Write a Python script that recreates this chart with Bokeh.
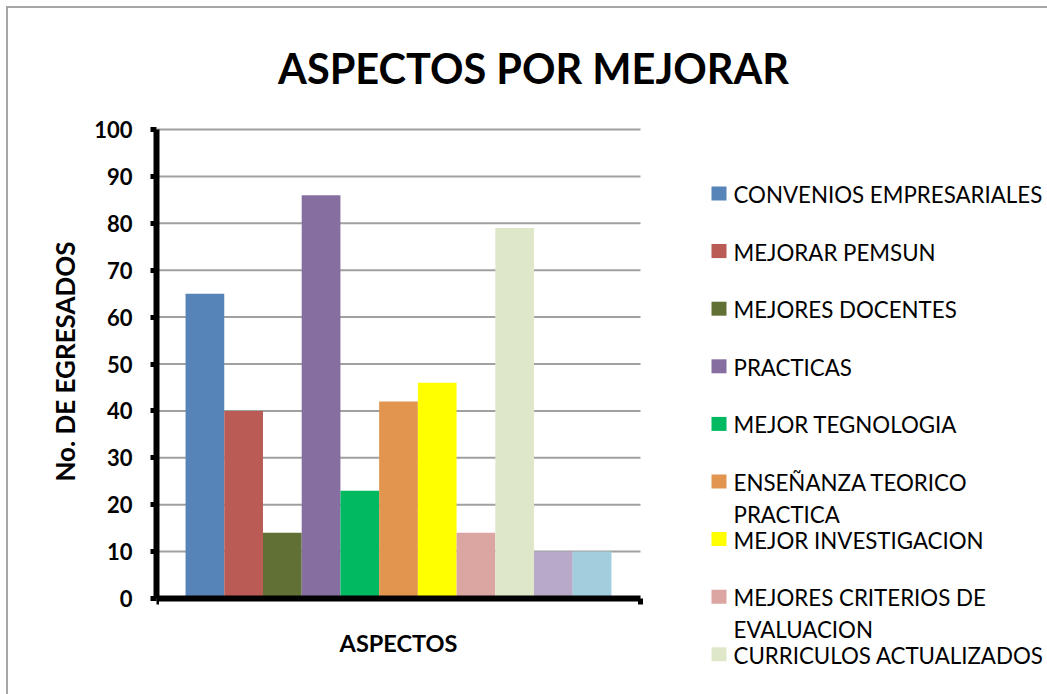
from bokeh.plotting import figure
from bokeh.models import Range1d, ColumnDataSource, FixedTicker
from bokeh.core.properties import value
from bokeh.embed import file_html
from bokeh.resources import INLINE

# ---- data ----
title_text = "ASPECTOS POR MEJORAR"
x_label = "ASPECTOS"
y_label = "No. DE EGRESADOS"
categories = [
    "CONVENIOS EMPRESARIALES",
    "MEJORAR PEMSUN",
    "MEJORES DOCENTES",
    "PRACTICAS",
    "MEJOR TEGNOLOGIA",
    "ENSEÑANZA TEORICO\nPRACTICA",
    "MEJOR INVESTIGACION",
    "MEJORES CRITERIOS DE\nEVALUACION",
    "CURRICULOS ACTUALIZADOS",
    "",   # legend entry cut off in the reference
    "",   # legend entry cut off in the reference
]
values = [65, 40, 14, 86, 23, 42, 46, 14, 79, 10, 10]
colors = ["#5683B8", "#BB5B55", "#617135", "#866FA0", "#00B960", "#E2954E",
          "#FFFF00", "#DBA5A2", "#DFE7C9", "#B9A9C9", "#A1CDDC"]
y_ticks = [0, 10, 20, 30, 40, 50, 60, 70, 80, 90, 100]
visible_legend = 9

FONT = "Lato"
W, H = 1047, 694

# ---- layout (pixels) ----
FRAME_L, FRAME_R_DATA_PX = 156, 640   # left edge and right end of the bar area
ZERO_PX, TOP_PX = 598, 129            # pixel rows of y=0 and y=100
TOP_BORDER, BOTTOM_BORDER = 38, 10    # frame centred on the y-axis label row
n = len(values)
pad = 0.75
x_end = n + 2 * pad
PPX = (FRAME_R_DATA_PX - FRAME_L) / x_end
PPY = (ZERO_PX - TOP_PX) / (y_ticks[-1] - y_ticks[0])


def dx(px):
    return (px - FRAME_L) / PPX


def dy(py):
    return (ZERO_PX - py) / PPY


xs = [pad + 0.5 + i for i in range(n)]
src = ColumnDataSource(dict(x=xs, value=values, color=colors, cat=categories))

p = figure(width=W, height=H, output_backend="svg", toolbar_location=None,
           x_range=Range1d(0, dx(W)),
           y_range=Range1d(dy(H - BOTTOM_BORDER), dy(TOP_BORDER)),
           min_border_left=FRAME_L, min_border_top=TOP_BORDER,
           min_border_right=0, min_border_bottom=BOTTOM_BORDER)
p.title = None
p.outline_line_color = None
p.background_fill_color = None
p.border_fill_color = None
p.styles = {
    "background": "linear-gradient(#A6A6A6,#A6A6A6) 6px 6px / 2px 100% no-repeat, "
                  "linear-gradient(#A6A6A6,#A6A6A6) 6px 6px / 100% 2px no-repeat, white"
}

# grid lines (only across the bar area)
p.xgrid.grid_line_color = None
p.ygrid.grid_line_color = None
p.segment(x0=0, x1=x_end, y0=y_ticks[1:], y1=y_ticks[1:], line_color="#A0A0A0", line_width=2)

# bars
p.vbar(x="x", top="value", width=1.0, fill_color="color", line_color=None, source=src)

# title
p.text(x=[dx(533)], y=[dy(67)], text=[title_text], text_font=value(FONT),
       text_font_size="41.5px", text_font_style="bold", text_color="black",
       text_align="center", text_baseline="middle")

# x-axis label
p.text(x=[x_end / 2], y=[dy(642.5)], text=[x_label], text_font=value(FONT),
       text_font_size="23.5px", text_font_style="bold", text_color="black",
       text_align="center", text_baseline="middle")

# y axis
ya = p.yaxis[0]
ya.ticker = FixedTicker(ticks=y_ticks)
ya.bounds = (y_ticks[0], y_ticks[-1])
ya.axis_line_width = 6
ya.axis_line_color = "black"
ya.major_tick_line_width = 5
ya.major_tick_out = 6
ya.major_tick_in = 0
ya.minor_tick_line_color = None
ya.major_label_text_font = FONT
ya.major_label_text_font_style = "bold"
ya.major_label_text_font_size = "22px"
ya.major_label_text_color = "black"
ya.major_label_standoff = 18
ya.axis_label = y_label
ya.axis_label_text_font = FONT
ya.axis_label_text_font_style = "bold"
ya.axis_label_text_font_size = "26px"
ya.axis_label_text_color = "black"
ya.axis_label_standoff = 10

# x axis (drawn at y = 0)
xa = p.xaxis[0]
xa.fixed_location = 0
xa.ticker = FixedTicker(ticks=[0, x_end])
xa.bounds = (0, x_end)
xa.axis_line_width = 6
xa.axis_line_color = "black"
xa.major_tick_line_width = 5
xa.major_tick_out = 6
xa.major_tick_in = 0
xa.minor_tick_line_color = None
xa.major_label_overrides = {0: " ", x_end: " "}
xa.major_label_text_font_size = "1px"
xa.major_label_standoff = 0

# legend (drawn by hand so that wrapped labels overflow like the original)
LEG_TOP, LEG_STEP = 193, 57.6
LEG_SQ_X, LEG_TXT_X, LINE_STEP = 718.5, 733, 32
sq_x, sq_y, sq_c = [], [], []
t_x, t_y, t_s = [], [], []
for i in range(visible_legend):
    cy = LEG_TOP + LEG_STEP * i
    sq_x.append(dx(LEG_SQ_X))
    sq_y.append(dy(cy))
    sq_c.append(colors[i])
    for j, line in enumerate(categories[i].split("\n")):
        t_x.append(dx(LEG_TXT_X))
        t_y.append(dy(cy + 1 + LINE_STEP * j))
        t_s.append(line)
p.rect(x=sq_x, y=sq_y, width=15, height=14, width_units="screen", height_units="screen",
       fill_color=sq_c, line_color=None)
p.text(x=t_x, y=t_y, text=t_s, text_font=value(FONT), text_font_size="22.3px",
       text_color="black", text_align="left", text_baseline="middle")

open("out.html", "w").write(file_html(p, INLINE))
